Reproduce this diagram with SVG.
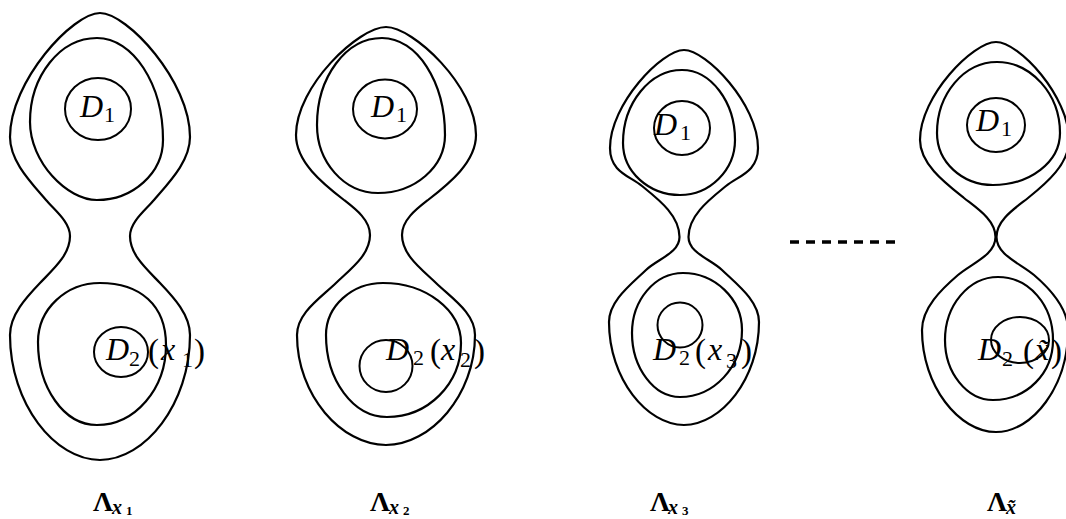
<svg xmlns="http://www.w3.org/2000/svg" width="1066" height="519" viewBox="0 0 1066 519">
<style>
.c{fill:none;stroke:#000;stroke-width:2.2;stroke-linejoin:round}
.k{fill:none;stroke:#000;stroke-width:2}
.t{font-family:"Liberation Serif","Times New Roman",serif;fill:#000}
.mi{font-style:italic;font-size:32px}
.rm{font-size:33px}
.sb{font-size:22px}
.lb{font-weight:bold;font-size:28px}
.lx{font-weight:bold;font-style:italic;font-size:20px}
.ls{font-weight:bold;font-size:13px}
</style>
<rect width="1066" height="519" fill="#fff"/>
<g id="fig1">
<path class="c" d="M100,13 C127,13 190,81 190,137 C190,161 169.6,181.8 154,200 C144.9,210.6 130,222 130,236 C130,255 146.9,269.3 160,283 C173.8,297.4 190,315 190,335 C190,404 145,460 100,460 C55,460 10,404 10,335 C10,315 26.2,297.4 40,283 C53.1,269.3 70,255 70,236 C70,222 55.1,210.6 46,200 C30.4,181.8 10,161 10,137 C10,81 73,13 100,13 Z"/>
<path class="c" d="M97,38 C133,38 163,84 163,140 C163,173 133,200 97,200 C67,200 30,162 30,122 C30,76 60,38 97,38 Z"/>
<path class="c" d="M100,283 C140,283 166,305 166,345 C166,389 135,425 97,425 C64,425 38,388 38,342 C38,309 66,283 100,283 Z"/>
<ellipse class="k" cx="98" cy="109" rx="33" ry="31"/>
<ellipse class="k" cx="121" cy="352" rx="27" ry="25"/>
<text class="t"><tspan class="mi" x="80" y="117">D</tspan><tspan class="sb" x="104" y="122">1</tspan></text>
<text class="t"><tspan class="mi" x="106" y="360">D</tspan><tspan class="sb" x="129" y="366">2</tspan><tspan class="rm" x="148" y="362">(</tspan><tspan class="mi" x="161" y="360">x</tspan><tspan class="sb" x="182" y="367">1</tspan><tspan class="rm" x="194" y="362">)</tspan></text>
<text class="t"><tspan class="lb" x="93" y="511">Λ</tspan><tspan class="lx" x="112" y="514">x</tspan><tspan class="ls" x="126" y="515">1</tspan></text>
</g>
<g id="fig2">
<path class="c" d="M386,27 C413,27 476,86 476,135 C476,162 449.3,183.5 428,200 C416.2,209.2 402,220 402,235 C402,255 421.6,269.2 436,283 C451.8,298.2 475,313 475,335 C475,395.5 430.5,445 386,445 C341.5,445 297,395.5 297,335 C297,313 320.2,298.2 336,283 C350.4,269.2 370,255 370,235 C370,220 355.8,209.2 344,200 C322.7,183.5 296,162 296,135 C296,86 359,27 386,27 Z"/>
<path class="c" d="M382,38 C417,38 445,82 445,135 C445,167 415,193 378,193 C344,193 317,162 317,125 C317,77 346,38 382,38 Z"/>
<path class="c" d="M383,283 C426,283 461,310 461,343 C461,384 428,417 387,417 C353,417 326,380 326,335 C326,306 352,283 383,283 Z"/>
<ellipse class="k" cx="385" cy="109" rx="32" ry="29.5"/>
<ellipse class="k" cx="386" cy="366" rx="26.5" ry="26"/>
<text class="t"><tspan class="mi" x="371" y="117">D</tspan><tspan class="sb" x="396" y="122">1</tspan></text>
<text class="t"><tspan class="mi" x="386" y="360">D</tspan><tspan class="sb" x="413" y="365">2</tspan><tspan class="rm" x="430" y="362">(</tspan><tspan class="mi" x="441" y="360">x</tspan><tspan class="sb" x="460" y="367">2</tspan><tspan class="rm" x="474" y="362">)</tspan></text>
<text class="t"><tspan class="lb" x="370" y="511">Λ</tspan><tspan class="lx" x="389" y="514">x</tspan><tspan class="ls" x="403" y="515">2</tspan></text>
</g>
<g id="fig3">
<path class="c" d="M684,50 C706,50 758,104 758,148 C758,172 738.3,175.9 726,186 C710.6,198.6 688.5,215 688.5,237 C688.5,253 710.5,259 722,270 C737.1,284.5 759,301 759,322 C759,379 721,425 684,425 C647,425 609,379 609,322 C609,301 630.9,284.5 646,270 C657.5,259 679.5,253 679.5,237 C679.5,215 657.4,198.6 642,186 C629.7,175.9 610,172 610,148 C610,104 662,50 684,50 Z"/>
<path class="c" d="M682,70 C711,70 735,102 735,140 C735,170 710,195 680,195 C649,195 623,172 623,143 C623,103 650,70 682,70 Z"/>
<path class="c" d="M683,273 C715,273 742,299 742,330 C742,367 714,397 680,397 C654,397 632,368 632,333 C632,300 655,273 683,273 Z"/>
<ellipse class="k" cx="682" cy="128" rx="28" ry="27"/>
<ellipse class="k" cx="680" cy="325" rx="22.5" ry="22.5"/>
<text class="t"><tspan class="mi" x="654" y="135">D</tspan><tspan class="sb" x="680" y="140">1</tspan></text>
<text class="t"><tspan class="mi" x="653" y="360">D</tspan><tspan class="sb" x="679" y="365">2</tspan><tspan class="rm" x="695" y="362">(</tspan><tspan class="mi" x="708" y="360">x</tspan><tspan class="sb" x="726" y="368">3</tspan><tspan class="rm" x="741" y="362">)</tspan></text>
<text class="t"><tspan class="lb" x="650" y="511">Λ</tspan><tspan class="lx" x="668" y="514">x</tspan><tspan class="ls" x="682" y="515">3</tspan></text>
</g>
<g id="fig4">
<path class="c" d="M996,42 C1019,42 1069,96 1069,140 C1069,164 1046.7,183.1 1028,198 C1014.7,208.5 996.5,220 996.5,237 C996.5,255 1020.3,263.3 1034,275 C1050.7,289.3 1068,308 1068,330 C1068,386 1033,432 996,432 C959,432 922,386 922,330 C922,308 941.3,289.3 958,275 C971.7,263.3 995.5,255 995.5,237 C995.5,220 977.3,208.5 964,198 C945.3,183.1 920,164 920,140 C920,96 973,42 996,42 Z"/>
<path class="c" d="M997,62 C1031,62 1060,94 1060,133 C1060,162 1030,185 993,185 C962,185 937,162 937,133 C937,94 964,62 997,62 Z"/>
<path class="c" d="M998,277 C1029,277 1053,305 1053,340 C1053,373 1027,400 993,400 C967,400 945,373 945,340 C945,305 969,277 998,277 Z"/>
<ellipse class="k" cx="996" cy="125" rx="29" ry="27"/>
<ellipse class="k" cx="1020" cy="340" rx="29" ry="23"/>
<text class="t"><tspan class="mi" x="976" y="131">D</tspan><tspan class="sb" x="1001" y="136">1</tspan></text>
<text class="t"><tspan class="mi" x="978" y="360">D</tspan><tspan class="sb" x="1002" y="366">2</tspan><tspan class="rm" x="1023" y="362">(</tspan><tspan class="mi" x="1035" y="360">x̃</tspan><tspan class="rm" x="1051" y="362">)</tspan></text>
<text class="t"><tspan class="lb" x="987" y="511">Λ</tspan><tspan class="lx" x="1006" y="514">x̃</tspan></text>
</g>
<g id="dots">
<line x1="790" y1="242" x2="896" y2="242" stroke="#000" stroke-width="3.5" stroke-dasharray="9 7"/>
</g>
</svg>
